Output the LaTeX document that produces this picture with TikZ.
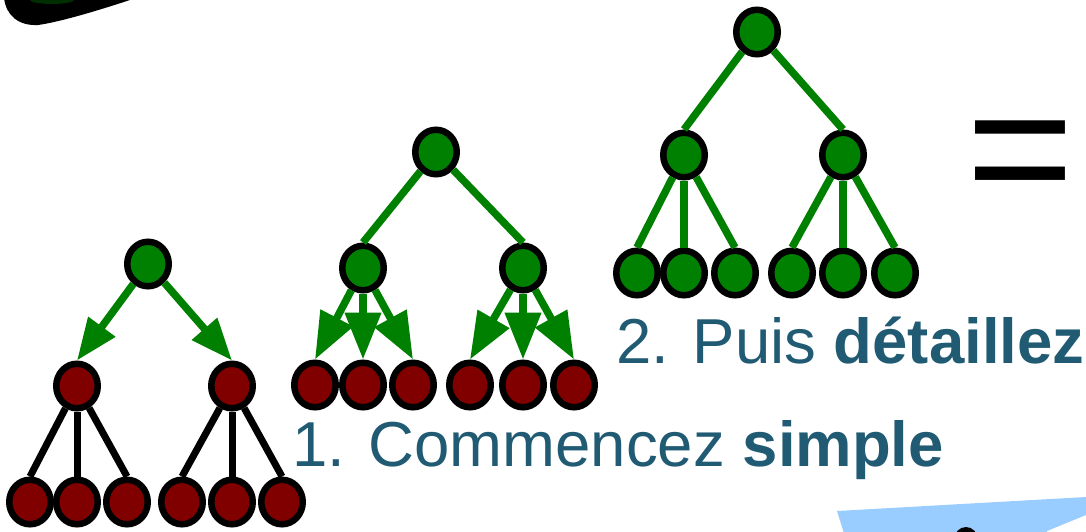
\documentclass[tikz,border=0pt]{standalone}
\usepackage{fontspec}
\setmainfont{Liberation Sans}
\usetikzlibrary{arrows.meta,shapes.geometric}
\definecolor{tgreen}{RGB}{0,128,0}
\definecolor{tred}{RGB}{128,0,0}
\definecolor{ttext}{RGB}{33,90,115}
\definecolor{tblue}{RGB}{153,204,255}
\begin{document}
\begin{tikzpicture}[x=1pt,y=-1pt,
  treenode/.style={shape=ellipse, draw=black, line width=6.5pt, minimum width=41.5pt, minimum height=44.5pt, inner sep=0pt},
  gnode/.style={treenode, fill=tgreen},
  rnode/.style={treenode, fill=tred},
  gline/.style={draw=tgreen, line width=7.5pt},
  bline/.style={draw=black, line width=7pt},
  garrowA/.style={gline, -{Triangle[length=42pt,width=32pt]}},
  garrowB/.style={gline, -{Triangle[length=47pt,width=35pt]}},
  label/.style={anchor=base west, inner sep=0pt, text=ttext, font=\fontsize{63.5}{70}\selectfont}
]
\useasboundingbox (0,0) rectangle (1086,531);
\clip (0,0) rectangle (1086,531);

% top-left partial shape
\fill[black] (4,-2) .. controls (6,15) and (18,26) .. (38,25) .. controls (60,22) and (100,10) .. (136,-2) -- cycle;
\fill[tgreen!60!black, opacity=0.6] (52,0) ellipse [x radius=22pt, y radius=4pt];

% bottom-right partial shapes
\fill[tblue] (837,511) -- (1086,497) -- (1086,515) -- (1047,531) -- (1047,540) -- (846,540) -- cycle;
\fill[black] (966,540) ellipse [x radius=12pt, y radius=13pt];

% ---------- tree 1 ----------
\node[gnode] (t1r) at (148,264) {};
\node[rnode] (t1a) at (77,386) {};
\node[rnode] (t1b) at (232,386) {};
\node[rnode] (t1a1) at (30,502) {};
\node[rnode] (t1a2) at (77,502) {};
\node[rnode] (t1a3) at (127,502) {};
\node[rnode] (t1b1) at (182,502) {};
\node[rnode] (t1b2) at (232,502) {};
\node[rnode] (t1b3) at (282,502) {};
\draw[garrowA] (t1r) -- (t1a.north);
\draw[garrowA] (t1r) -- (t1b.north);
\foreach \p in {t1a,t1b}{
  \foreach \c in {1,2,3}{
    \draw[bline] (\p) -- (\p\c.north);
  }
}

% ---------- tree 2 ----------
\node[gnode] (t2r) at (436,152) {};
\node[gnode] (t2a) at (363,268) {};
\node[gnode] (t2b) at (523,268) {};
\node[rnode] (t2a1) at (315,385) {};
\node[rnode] (t2a2) at (363,385) {};
\node[rnode] (t2a3) at (413,385) {};
\node[rnode] (t2b1) at (470,385) {};
\node[rnode] (t2b2) at (523,385) {};
\node[rnode] (t2b3) at (574,385) {};
\draw[gline] (t2r) -- (t2a.north);
\draw[gline] (t2r) -- (t2b.north);
\foreach \p in {t2a,t2b}{
  \foreach \c in {1,2,3}{
    \draw[garrowB] (\p) -- (\p\c.north);
  }
}

% ---------- tree 3 ----------
\node[gnode] (t3r) at (757,32) {};
\node[gnode] (t3a) at (684,155) {};
\node[gnode] (t3b) at (843,155) {};
\node[gnode] (t3a1) at (637,273) {};
\node[gnode] (t3a2) at (684,273) {};
\node[gnode] (t3a3) at (735,273) {};
\node[gnode] (t3b1) at (792,273) {};
\node[gnode] (t3b2) at (843,273) {};
\node[gnode] (t3b3) at (895,273) {};
\draw[gline] (t3r) -- (t3a.north);
\draw[gline] (t3r) -- (t3b.north);
\foreach \p in {t3a,t3b}{
  \foreach \c in {1,2,3}{
    \draw[gline] (\p) -- (\p\c.north);
  }
}

% ---------- texts ----------
\node[anchor=base west, inner sep=0pt, font=\fontsize{185}{190}\selectfont] (eq) at (966,211) {=};
\node[label] (lab2) at (616,363) {2. Puis \textbf{détaillez}};
\node[label] (lab1) at (292,466) {1. Commencez \textbf{simple}};
\end{tikzpicture}
\end{document}
